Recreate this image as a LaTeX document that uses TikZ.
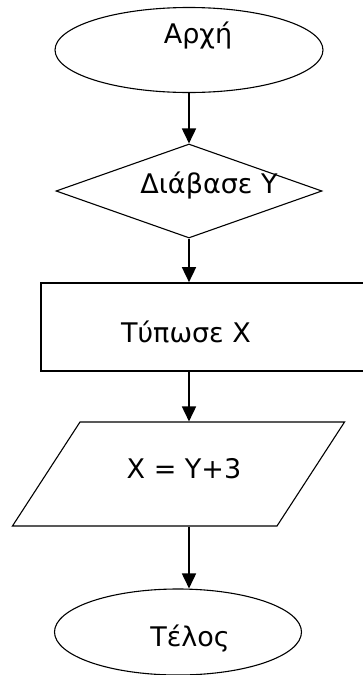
\documentclass[tikz,border=0pt]{standalone}
\usepackage{fontspec}
\setmainfont{DejaVu Sans}
\usepackage{tikz}
\usetikzlibrary{shapes.geometric,arrows.meta}
\definecolor{ink}{HTML}{000000}
\tikzset{
  term/.style={ellipse, draw=ink, line width=1.1pt, inner sep=0pt},
  decide/.style={diamond, draw=ink, line width=1.1pt, inner sep=0pt},
  proc/.style={rectangle, draw=ink, line width=1.7pt, inner sep=0pt},
  io/.style={trapezium, trapezium left angle=57, trapezium right angle=123,
    draw=ink, line width=1.1pt, inner xsep=98.5pt, inner ysep=52pt},
  flow/.style={draw=ink, line width=1.7pt, -{Triangle[length=15pt,width=14pt]}},
  lab/.style={text=ink, font=\fontsize{27}{32}\selectfont, anchor=base, inner sep=0pt},
}

\begin{document}
\begin{tikzpicture}[x=1pt, y=-1pt]
  \useasboundingbox (0,0) rectangle (363,675);
  \node[term, minimum width=268pt, minimum height=85pt] (start) at (189,50) {};
  \node[decide, minimum width=266pt, minimum height=94pt] (read) at (189,191) {};
  \node[proc, minimum width=340pt, minimum height=88pt] (print) at (211,327) {};
  \node[io] (calc) at (178.5,474) {};
  \node[term, minimum width=247pt, minimum height=86pt] (stop) at (178,632) {};
  \node[lab] (tstart) at (198,43) {Αρχή};
  \node[lab] (tread) at (209,193) {Διάβασε Υ};
  \node[lab] (tprint) at (186,342) {Τύπωσε Χ};
  \node[lab] (tcalc) at (184,478) {Χ = Υ+3};
  \node[lab] (tstop) at (190,646) {Τέλος};
  \draw[flow] (start.south) -- (read.north);
  \draw[flow] (read.south) -- (read.south |- print.north);
  \draw[flow] (read.south |- print.south) -- (read.south |- calc.north);
  \draw[flow] (read.south |- calc.south) -- (read.south |- stop.north);
\end{tikzpicture}
\end{document}
